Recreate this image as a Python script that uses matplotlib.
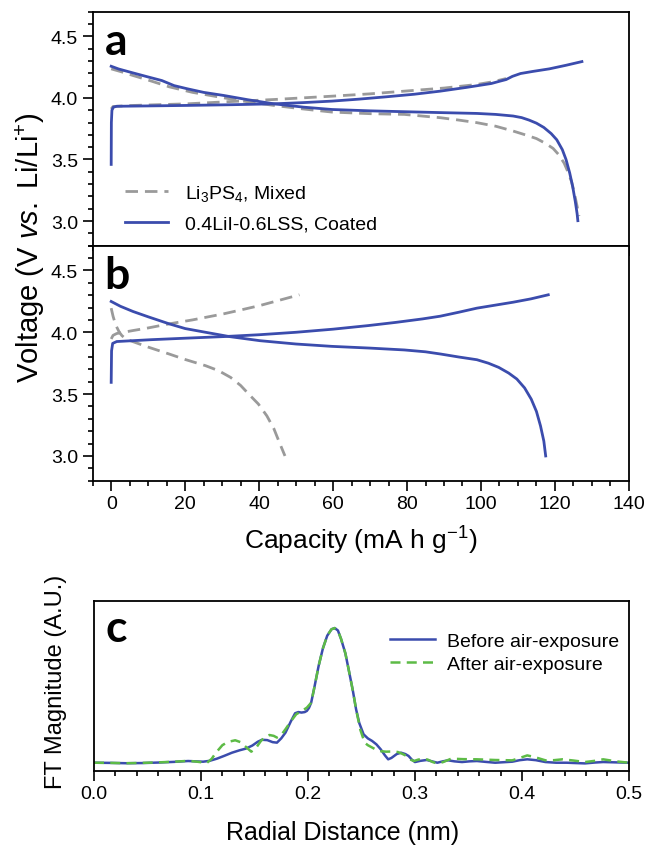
import numpy as np
import matplotlib
matplotlib.use("Agg")
import matplotlib.pyplot as plt
from matplotlib.ticker import MultipleLocator, NullLocator, FormatStrFormatter

plt.rcParams['font.family'] = ['Liberation Sans', 'DejaVu Sans']
plt.rcParams['mathtext.fontset'] = 'custom'
plt.rcParams['mathtext.rm'] = 'Liberation Sans'
plt.rcParams['mathtext.it'] = 'Liberation Sans:italic'

BLUE = '#3b4cad'
GRAY = '#9a9a9a'
GREEN = '#5dbb46'

# panel a - charge / discharge curves (capacity mAh/g, voltage V)
a_coat_chg_x = [0, 0.05, 0.2, 0.6, 1.5, 10, 20.6, 33, 44, 52, 59.7, 67, 74.4, 82, 89, 96,
                102.8, 105, 106.8, 108.5, 110.7, 114, 118.5, 123, 127.3]
a_coat_chg_v = [3.46, 3.80, 3.90, 3.925, 3.932, 3.935, 3.939, 3.945, 3.952, 3.962, 3.974, 3.99,
                4.009, 4.03, 4.055, 4.085, 4.117, 4.135, 4.149, 4.175, 4.198, 4.215, 4.236,
                4.265, 4.295]
a_coat_dis_x = [0, 2, 5.9, 10, 13.7, 17, 20.6, 25, 30.4, 37, 44, 52, 59.7, 70, 79.3, 90, 98.9,
                104, 108.7, 111, 113, 115, 117, 119, 120.5, 122, 123, 124, 124.8, 125.5, 126, 126.2]
a_coat_dis_v = [4.257, 4.235, 4.203, 4.17, 4.141, 4.10, 4.074, 4.045, 4.02, 3.985, 3.952, 3.925,
                3.906, 3.895, 3.888, 3.88, 3.874, 3.866, 3.853, 3.84, 3.82, 3.795, 3.76, 3.71,
                3.66, 3.58, 3.50, 3.39, 3.28, 3.16, 3.06, 3.003]
a_mix_chg_x = [0, 0.5, 5, 20.6, 32, 44, 59.7, 70, 79.3, 90, 98.9, 103, 106.8]
a_mix_chg_v = [3.91, 3.93, 3.938, 3.952, 3.97, 3.987, 4.014, 4.033, 4.055, 4.08, 4.109, 4.13, 4.157]
a_mix_dis_x = [0, 3, 5.9, 10, 15.7, 22, 30.4, 37, 44, 52, 59.7, 70, 79.3, 89.1, 94, 98.9, 104,
               108.7, 112, 115, 117.5, 119.5, 121, 122.5, 123.5, 124.5, 125.3, 126, 126.5]
a_mix_dis_v = [4.236, 4.21, 4.182, 4.145, 4.09, 4.045, 4.001, 3.968, 3.939, 3.91, 3.885, 3.872,
               3.866, 3.839, 3.82, 3.799, 3.77, 3.731, 3.70, 3.67, 3.63, 3.59, 3.54, 3.47,
               3.40, 3.32, 3.22, 3.12, 3.04]

# panel b
b_coat_chg_x = [0, 0.1, 0.4, 1.5, 10.8, 20, 30.4, 40, 50, 60, 69.5, 77, 84.2, 89, 94, 98.9,
                104, 108.7, 113.5, 118.2]
b_coat_chg_v = [3.595, 3.85, 3.91, 3.925, 3.94, 3.952, 3.965, 3.98, 4.0, 4.025, 4.054, 4.08,
                4.108, 4.13, 4.162, 4.195, 4.22, 4.243, 4.27, 4.303]
b_coat_dis_x = [0, 2.5, 5.9, 10, 15.7, 20, 25.5, 32, 40.2, 50, 59.7, 70, 79.3, 85, 89.1, 94,
                98.9, 102, 104.8, 107.5, 109.7, 111.8, 113.6, 115, 116.1, 117, 117.5]
b_coat_dis_v = [4.249, 4.21, 4.168, 4.125, 4.068, 4.03, 4.0, 3.965, 3.932, 3.905, 3.886, 3.872,
                3.857, 3.842, 3.824, 3.80, 3.778, 3.75, 3.716, 3.67, 3.622, 3.55, 3.459, 3.36,
                3.243, 3.12, 3.0]
b_mix_chg_x = [0, 0.5, 1.5, 5.9, 10, 15.7, 22, 30.4, 35, 40.2, 45, 50.9]
b_mix_chg_v = [3.946, 3.975, 3.99, 4.014, 4.035, 4.068, 4.10, 4.149, 4.18, 4.216, 4.255, 4.303]
b_mix_dis_x = [0, 0.5, 1.2, 2.2, 2.9, 4, 5.9, 10, 15.7, 20, 25.5, 29, 32.3, 35, 37.2, 39.8,
               42.1, 44, 45.5, 47]
b_mix_dis_v = [4.195, 4.13, 4.06, 4.0, 3.973, 3.945, 3.924, 3.88, 3.824, 3.78, 3.73, 3.69,
               3.635, 3.57, 3.5, 3.42, 3.324, 3.22, 3.108, 3.0]

# panel c - FT magnitude (fraction of axis height)
c_before_r = [0, 0.015, 0.03, 0.045, 0.06, 0.075, 0.088, 0.095, 0.102, 0.108, 0.115, 0.122,
              0.129, 0.136, 0.142, 0.148, 0.153, 0.157, 0.162, 0.167, 0.171, 0.175, 0.179,
              0.184, 0.188, 0.191, 0.194, 0.197, 0.199, 0.201, 0.203, 0.206, 0.210, 0.214,
              0.218, 0.222, 0.225, 0.228, 0.231, 0.235, 0.238, 0.242, 0.245, 0.248, 0.252,
              0.256, 0.260, 0.264, 0.268, 0.272, 0.275, 0.278, 0.283, 0.287, 0.291, 0.294,
              0.297, 0.300, 0.305, 0.311, 0.316, 0.321, 0.326, 0.331, 0.337, 0.344, 0.351,
              0.358, 0.366, 0.375, 0.383, 0.391, 0.398, 0.405, 0.413, 0.422, 0.432, 0.442,
              0.45, 0.459, 0.468, 0.476, 0.488, 0.5]
c_before_m = [0.047, 0.046, 0.044, 0.045, 0.048, 0.052, 0.057, 0.055, 0.053, 0.058, 0.071, 0.088,
              0.106, 0.12, 0.130, 0.148, 0.170, 0.182, 0.180, 0.168, 0.165, 0.19, 0.224,
              0.29, 0.338, 0.345, 0.342, 0.345, 0.352, 0.37, 0.40, 0.49, 0.617, 0.72,
              0.794, 0.832, 0.839, 0.825, 0.774, 0.69, 0.597, 0.47, 0.361, 0.28, 0.214,
              0.19, 0.175, 0.155, 0.126, 0.09, 0.067, 0.075, 0.098, 0.106, 0.098, 0.087,
              0.066, 0.051, 0.058, 0.063, 0.055, 0.047, 0.055, 0.061, 0.055, 0.051, 0.055,
              0.057, 0.052, 0.047, 0.05, 0.053, 0.062, 0.067, 0.062, 0.051, 0.047, 0.047,
              0.045, 0.043, 0.048, 0.051, 0.049, 0.047]
c_after_r = [0, 0.015, 0.03, 0.045, 0.06, 0.075, 0.088, 0.095, 0.100, 0.105, 0.110, 0.114,
             0.12, 0.125, 0.132, 0.137, 0.142, 0.147, 0.151, 0.156, 0.160, 0.164, 0.168,
             0.171, 0.175, 0.179, 0.184, 0.189, 0.194, 0.199, 0.203, 0.206, 0.210, 0.214,
             0.218, 0.222, 0.225, 0.228, 0.231, 0.235, 0.238, 0.242, 0.245, 0.249, 0.253,
             0.256, 0.263, 0.268, 0.273, 0.279, 0.284, 0.288, 0.292, 0.296, 0.299, 0.303,
             0.307, 0.312, 0.317, 0.321, 0.326, 0.334, 0.345, 0.358, 0.375, 0.391, 0.398,
             0.405, 0.412, 0.422, 0.430, 0.438, 0.448, 0.459, 0.468, 0.476, 0.488, 0.5]
c_after_m = [0.047, 0.046, 0.044, 0.046, 0.049, 0.053, 0.058, 0.054, 0.050, 0.043, 0.07, 0.106,
             0.15, 0.169, 0.179, 0.168, 0.14, 0.112, 0.13, 0.175, 0.198, 0.210, 0.205,
             0.195, 0.21, 0.244, 0.29, 0.332, 0.35, 0.371, 0.40, 0.49, 0.617, 0.72,
             0.794, 0.832, 0.839, 0.825, 0.774, 0.69, 0.597, 0.47, 0.361, 0.24, 0.165,
             0.15, 0.126, 0.115, 0.112, 0.113, 0.110, 0.10, 0.087, 0.065, 0.057, 0.065,
             0.071, 0.065, 0.05, 0.043, 0.05, 0.071, 0.068, 0.067, 0.063, 0.061, 0.075,
             0.090, 0.08, 0.061, 0.062, 0.067, 0.06, 0.051, 0.058, 0.067, 0.055, 0.047]

fig = plt.figure(figsize=(6.46, 8.53), dpi=100)
ax_a = fig.add_axes([0.1435, 0.7108, 0.8300, 0.2743])
ax_b = fig.add_axes([0.1435, 0.4353, 0.8300, 0.2755])
ax_c = fig.add_axes([0.1455, 0.0953, 0.8280, 0.1993])

TICK_FS = 14
dash = (0, (4.5, 2.5))
for ax, data in ((ax_a, (a_mix_chg_x, a_mix_chg_v, a_mix_dis_x, a_mix_dis_v,
                         a_coat_chg_x, a_coat_chg_v, a_coat_dis_x, a_coat_dis_v)),
                 (ax_b, (b_mix_chg_x, b_mix_chg_v, b_mix_dis_x, b_mix_dis_v,
                         b_coat_chg_x, b_coat_chg_v, b_coat_dis_x, b_coat_dis_v))):
    mcx, mcv, mdx, mdv, ccx, ccv, cdx, cdv = data
    ax.plot(mcx, mcv, color=GRAY, lw=2.0, ls=dash, label=r'Li$_3$PS$_4$, Mixed')
    ax.plot(mdx, mdv, color=GRAY, lw=2.0, ls=dash)
    ax.plot(ccx, ccv, color=BLUE, lw=2.0, label='0.4LiI-0.6LSS, Coated')
    ax.plot(cdx, cdv, color=BLUE, lw=2.0)
    ax.set_xlim(-5, 140)
    ax.set_ylim(2.8, 4.7)
    ax.xaxis.set_major_locator(MultipleLocator(20))
    ax.xaxis.set_minor_locator(MultipleLocator(5))
    ax.yaxis.set_major_locator(MultipleLocator(0.5))
    ax.yaxis.set_minor_locator(MultipleLocator(0.1))
    ax.yaxis.set_major_formatter(FormatStrFormatter('%.1f'))
    ax.tick_params(which='major', direction='out', length=7, width=1.2, labelsize=TICK_FS)
    ax.tick_params(which='minor', direction='out', length=3.5, width=1.2)
    for s in ax.spines.values():
        s.set_linewidth(1.3)

ax_a.tick_params(axis='x', labelbottom=False)
ax_b.set_xlabel(r'Capacity (mA h g$^{-1}$)', fontsize=19, labelpad=8)
fig.text(0.047, 0.71, r'Voltage (V $\it{vs.}$ Li/Li$^{+}$)', rotation=90,
         ha='center', va='center', fontsize=21)

ax_a.legend(loc='upper left', bbox_to_anchor=(0.060, 0.268), borderpad=0, borderaxespad=0,
            frameon=False, fontsize=TICK_FS, handlelength=2.2, handletextpad=0.9,
            labelspacing=0.62)

ax_c.plot(c_before_r, c_before_m, color=BLUE, lw=1.8, label='Before air-exposure')
ax_c.plot(c_after_r, c_after_m, color=GREEN, lw=1.8, ls=(0, (4, 2.5)), label='After air-exposure')
ax_c.set_xlim(0, 0.5)
ax_c.set_ylim(0, 1)
ax_c.xaxis.set_major_locator(MultipleLocator(0.1))
ax_c.xaxis.set_minor_locator(MultipleLocator(0.02))
ax_c.yaxis.set_major_locator(NullLocator())
ax_c.tick_params(which='major', direction='out', length=7, width=1.2, labelsize=TICK_FS)
ax_c.tick_params(which='minor', direction='out', length=3.5, width=1.2)
for s in ax_c.spines.values():
    s.set_linewidth(1.3)
ax_c.set_xlabel('Radial Distance (nm)', fontsize=18)
ax_c.xaxis.set_label_coords(0.465, -0.29)
ax_c.set_ylabel('FT Magnitude (A.U.)', fontsize=17)
ax_c.yaxis.set_label_coords(-0.051, 0.53)
ax_c.legend(loc='upper left', bbox_to_anchor=(0.553, 0.815), borderpad=0, borderaxespad=0,
            frameon=False, fontsize=TICK_FS, handlelength=2.35, handletextpad=0.6,
            labelspacing=0.28)

for ax, lab in ((ax_a, 'a'), (ax_b, 'b'), (ax_c, 'c')):
    ax.text(0.022, 0.96, lab, transform=ax.transAxes, ha='left', va='top',
            fontsize=32, fontweight='bold', family=['Lato', 'DejaVu Sans'])

fig.savefig('out.png', dpi=100)
